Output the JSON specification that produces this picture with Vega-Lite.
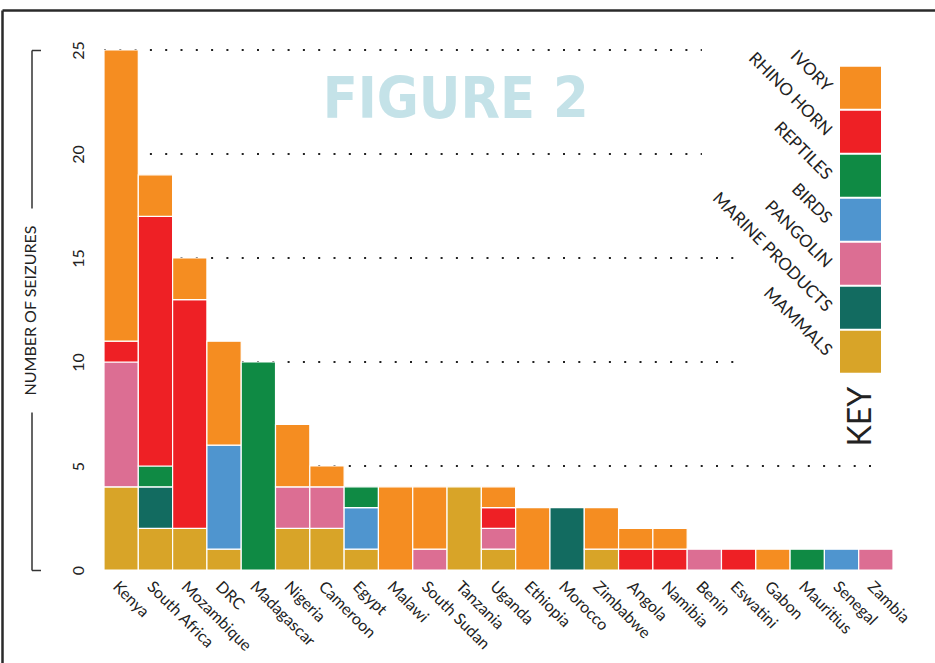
{
  "$schema": "https://vega.github.io/schema/vega-lite/v6.json",
  "width": 789,
  "height": 520,
  "autosize": {"type": "none"},
  "padding": {"left": 104, "top": 50, "right": 42, "bottom": 93},
  "background": "white",
  "config": {
    "view": {"stroke": null},
    "font": "Lato",
    "axis": {"labelFont": "Lato", "titleFont": "Lato"}
  },
  "datasets": {
    "seizures": [
      {"country": "Kenya", "category": "MAMMALS", "count": 4},
      {"country": "Kenya", "category": "PANGOLIN", "count": 6},
      {"country": "Kenya", "category": "RHINO HORN", "count": 1},
      {"country": "Kenya", "category": "IVORY", "count": 14},
      {"country": "South Africa", "category": "MAMMALS", "count": 2},
      {"country": "South Africa", "category": "MARINE PRODUCTS", "count": 2},
      {"country": "South Africa", "category": "REPTILES", "count": 1},
      {"country": "South Africa", "category": "RHINO HORN", "count": 12},
      {"country": "South Africa", "category": "IVORY", "count": 2},
      {"country": "Mozambique", "category": "MAMMALS", "count": 2},
      {"country": "Mozambique", "category": "RHINO HORN", "count": 11},
      {"country": "Mozambique", "category": "IVORY", "count": 2},
      {"country": "DRC", "category": "MAMMALS", "count": 1},
      {"country": "DRC", "category": "BIRDS", "count": 5},
      {"country": "DRC", "category": "IVORY", "count": 5},
      {"country": "Madagascar", "category": "REPTILES", "count": 10},
      {"country": "Nigeria", "category": "MAMMALS", "count": 2},
      {"country": "Nigeria", "category": "PANGOLIN", "count": 2},
      {"country": "Nigeria", "category": "IVORY", "count": 3},
      {"country": "Cameroon", "category": "MAMMALS", "count": 2},
      {"country": "Cameroon", "category": "PANGOLIN", "count": 2},
      {"country": "Cameroon", "category": "IVORY", "count": 1},
      {"country": "Egypt", "category": "MAMMALS", "count": 1},
      {"country": "Egypt", "category": "BIRDS", "count": 2},
      {"country": "Egypt", "category": "REPTILES", "count": 1},
      {"country": "Malawi", "category": "IVORY", "count": 4},
      {"country": "South Sudan", "category": "PANGOLIN", "count": 1},
      {"country": "South Sudan", "category": "IVORY", "count": 3},
      {"country": "Tanzania", "category": "MAMMALS", "count": 4},
      {"country": "Uganda", "category": "MAMMALS", "count": 1},
      {"country": "Uganda", "category": "PANGOLIN", "count": 1},
      {"country": "Uganda", "category": "RHINO HORN", "count": 1},
      {"country": "Uganda", "category": "IVORY", "count": 1},
      {"country": "Ethiopia", "category": "IVORY", "count": 3},
      {"country": "Morocco", "category": "MARINE PRODUCTS", "count": 3},
      {"country": "Zimbabwe", "category": "MAMMALS", "count": 1},
      {"country": "Zimbabwe", "category": "IVORY", "count": 2},
      {"country": "Angola", "category": "RHINO HORN", "count": 1},
      {"country": "Angola", "category": "IVORY", "count": 1},
      {"country": "Namibia", "category": "RHINO HORN", "count": 1},
      {"country": "Namibia", "category": "IVORY", "count": 1},
      {"country": "Benin", "category": "PANGOLIN", "count": 1},
      {"country": "Eswatini", "category": "RHINO HORN", "count": 1},
      {"country": "Gabon", "category": "IVORY", "count": 1},
      {"country": "Mauritius", "category": "REPTILES", "count": 1},
      {"country": "Senegal", "category": "BIRDS", "count": 1},
      {"country": "Zambia", "category": "PANGOLIN", "count": 1}
    ],
    "key": [
      {"category": "IVORY"},
      {"category": "RHINO HORN"},
      {"category": "REPTILES"},
      {"category": "BIRDS"},
      {"category": "PANGOLIN"},
      {"category": "MARINE PRODUCTS"},
      {"category": "MAMMALS"}
    ]
  },
  "layer": [
    {
      "layer": [
        {
          "data": {"values": [{"v": 25}, {"v": 20}]},
          "mark": {"type": "rule", "color": "#222222", "strokeWidth": 2, "strokeDash": [2, 13.3]},
          "encoding": {
            "x": {"datum": "Kenya", "type": "nominal", "bandPosition": 0,
              "scale": {"type": "band", "paddingInner": 0, "paddingOuter": 0, "domain": ["Kenya","South Africa","Mozambique","DRC","Madagascar","Nigeria","Cameroon","Egypt","Malawi","South Sudan","Tanzania","Uganda","Ethiopia","Morocco","Zimbabwe","Angola","Namibia","Benin","Eswatini","Gabon","Mauritius","Senegal","Zambia"]}},
            "x2": {"datum": "Benin", "bandPosition": 0.43},
            "y": {"field": "v", "type": "quantitative",
              "scale": {"domain": [0, 25], "nice": false, "zero": true},
              "axis": {
                "orient": "left", "offset": 72.5, "values": [0, 25],
                "domain": true, "domainColor": "#333333", "domainWidth": 1.5, "domainDash": [158, 204, 158],
                "ticks": true, "tickSize": -9, "tickColor": "#333333", "tickWidth": 1.5,
                "labels": false, "grid": false,
                "title": "NUMBER OF SEIZURES", "titleFontSize": 16, "titleFontWeight": "normal", "titleColor": "#222222",
                "titleAngle": -90, "titleX": -1, "titleY": 260, "titleAlign": "center", "titleBaseline": "middle"
              }}
          }
        },
        {
          "data": {"values": [{"v": 15}, {"v": 10}]},
          "mark": {"type": "rule", "color": "#222222", "strokeWidth": 2, "strokeDash": [2, 13.3]},
          "encoding": {
            "x": {"datum": "Kenya", "type": "nominal", "bandPosition": 0,
              "scale": {"type": "band", "paddingInner": 0, "paddingOuter": 0, "domain": ["Kenya","South Africa","Mozambique","DRC","Madagascar","Nigeria","Cameroon","Egypt","Malawi","South Sudan","Tanzania","Uganda","Ethiopia","Morocco","Zimbabwe","Angola","Namibia","Benin","Eswatini","Gabon","Mauritius","Senegal","Zambia"]}},
            "x2": {"datum": "Eswatini", "bandPosition": 0.45},
            "y": {"field": "v", "type": "quantitative", "scale": {"domain": [0, 25], "nice": false, "zero": true}, "axis": null}
          }
        },
        {
          "data": {"values": [{"v": 5}]},
          "mark": {"type": "rule", "color": "#222222", "strokeWidth": 2, "strokeDash": [2, 13.3]},
          "encoding": {
            "x": {"datum": "Kenya", "type": "nominal", "bandPosition": 0,
              "scale": {"type": "band", "paddingInner": 0, "paddingOuter": 0, "domain": ["Kenya","South Africa","Mozambique","DRC","Madagascar","Nigeria","Cameroon","Egypt","Malawi","South Sudan","Tanzania","Uganda","Ethiopia","Morocco","Zimbabwe","Angola","Namibia","Benin","Eswatini","Gabon","Mauritius","Senegal","Zambia"]}},
            "x2": {"datum": "Zambia", "bandPosition": 0.4},
            "y": {"field": "v", "type": "quantitative", "scale": {"domain": [0, 25], "nice": false, "zero": true}, "axis": null}
          }
        },
        {
          "data": {"name": "seizures"},
          "transform": [
            {"calculate": "indexof(['MAMMALS', 'MARINE PRODUCTS', 'PANGOLIN', 'BIRDS', 'REPTILES', 'RHINO HORN', 'IVORY'], datum.category)", "as": "stackOrder"}
          ],
          "mark": {"type": "bar", "stroke": "#ffffff", "strokeWidth": 1.2},
          "encoding": {
            "x": {"field": "country", "type": "nominal",
              "scale": {"type": "band", "paddingInner": 0, "paddingOuter": 0, "domain": ["Kenya","South Africa","Mozambique","DRC","Madagascar","Nigeria","Cameroon","Egypt","Malawi","South Sudan","Tanzania","Uganda","Ethiopia","Morocco","Zimbabwe","Angola","Namibia","Benin","Eswatini","Gabon","Mauritius","Senegal","Zambia"]},
              "axis": {"orient": "bottom", "title": null, "domain": false, "ticks": false, "grid": false,
                "labelAngle": 45, "labelAlign": "left", "labelBaseline": "top", "labelPadding": 8,
                "labelFontSize": 16, "labelColor": "#222222", "labelOverlap": false}},
            "y": {"field": "count", "type": "quantitative", "stack": "zero",
              "scale": {"domain": [0, 25], "nice": false, "zero": true},
              "axis": {"orient": "left", "title": null, "domain": false, "ticks": false, "grid": false,
                "values": [0, 5, 10, 15, 20, 25], "labelAngle": -90, "labelAlign": "center", "labelBaseline": "bottom",
                "labelPadding": 18, "labelFontSize": 16, "labelColor": "#222222"}},
            "order": {"field": "stackOrder", "type": "quantitative", "sort": "ascending"},
            "color": {"field": "category", "type": "nominal",
              "scale": {"domain": ["IVORY", "RHINO HORN", "REPTILES", "BIRDS", "PANGOLIN", "MARINE PRODUCTS", "MAMMALS"],
                "range": ["#F58D21", "#EE2025", "#0F8A44", "#4F95CF", "#DC6E93", "#126B60", "#D8A428"]},
              "legend": null}
          }
        },
        {
          "data": {"values": [{"label": "FIGURE 2"}]},
          "mark": {"type": "text", "font": "'Liberation Sans Narrow', 'DejaVu Sans Condensed', 'Liberation Sans', sans-serif", "fontWeight": "bold", "fontSize": 57, "color": "#C4E2E8", "align": "center", "baseline": "alphabetic"},
          "encoding": {
            "x": {"datum": "Tanzania", "type": "nominal", "bandPosition": 0.25,
              "scale": {"type": "band", "paddingInner": 0, "paddingOuter": 0, "domain": ["Kenya","South Africa","Mozambique","DRC","Madagascar","Nigeria","Cameroon","Egypt","Malawi","South Sudan","Tanzania","Uganda","Ethiopia","Morocco","Zimbabwe","Angola","Namibia","Benin","Eswatini","Gabon","Mauritius","Senegal","Zambia"]}},
            "y": {"datum": 21.75, "type": "quantitative", "scale": {"domain": [0, 25], "nice": false, "zero": true}, "axis": null},
            "text": {"field": "label"}
          }
        }
      ],
      "resolve": {"axis": {"y": "independent"}}
    },
    {
      "data": {"name": "key"},
      "layer": [
        {
          "mark": {"type": "rect"},
          "encoding": {
            "x": {"datum": "swatch", "type": "nominal",
              "scale": {"type": "band", "domain": ["swatch"], "paddingInner": 0, "paddingOuter": 0, "range": [736, 777]}, "axis": null},
            "y": {"field": "category", "type": "nominal",
              "scale": {"type": "band", "domain": ["IVORY", "RHINO HORN", "REPTILES", "BIRDS", "PANGOLIN", "MARINE PRODUCTS", "MAMMALS", "KEY"], "paddingInner": 0.04545, "paddingOuter": 0, "range": [16.7, 366.7]}, "axis": null},
            "color": {"field": "category", "type": "nominal",
              "scale": {"domain": ["IVORY", "RHINO HORN", "REPTILES", "BIRDS", "PANGOLIN", "MARINE PRODUCTS", "MAMMALS"],
                "range": ["#F58D21", "#EE2025", "#0F8A44", "#4F95CF", "#DC6E93", "#126B60", "#D8A428"]},
              "legend": null}
          }
        },
        {
          "mark": {"type": "text", "angle": 45, "align": "right", "baseline": "middle", "dx": -7, "dy": 9, "fontSize": 17, "color": "#222222", "font": "Lato"},
          "encoding": {
            "x": {"datum": "swatch", "type": "nominal", "bandPosition": 0,
              "scale": {"type": "band", "domain": ["swatch"], "paddingInner": 0, "paddingOuter": 0, "range": [736, 777]}, "axis": null},
            "y": {"field": "category", "type": "nominal", "bandPosition": 0.5,
              "scale": {"type": "band", "domain": ["IVORY", "RHINO HORN", "REPTILES", "BIRDS", "PANGOLIN", "MARINE PRODUCTS", "MAMMALS", "KEY"], "paddingInner": 0.04545, "paddingOuter": 0, "range": [16.7, 366.7]}, "axis": null},
            "text": {"field": "category"}
          }
        },
        {
          "data": {"values": [{"t": "KEY"}]},
          "mark": {"type": "text", "angle": -90, "align": "center", "baseline": "middle", "fontSize": 32, "color": "#222222", "font": "Lato"},
          "encoding": {
            "x": {"datum": "swatch", "type": "nominal", "bandPosition": 0.5,
              "scale": {"type": "band", "domain": ["swatch"], "paddingInner": 0, "paddingOuter": 0, "range": [736, 777]}, "axis": null},
            "y": {"datum": "KEY", "type": "nominal", "bandPosition": 1,
              "scale": {"type": "band", "domain": ["IVORY", "RHINO HORN", "REPTILES", "BIRDS", "PANGOLIN", "MARINE PRODUCTS", "MAMMALS", "KEY"], "paddingInner": 0.04545, "paddingOuter": 0, "range": [16.7, 366.7]}, "axis": null},
            "text": {"field": "t"}
          }
        }
      ]
    },
    {
      "data": {"values": [{"f": 0}]},
      "mark": {"type": "point", "opacity": 0},
      "encoding": {
        "x": {"datum": 0, "type": "quantitative",
          "scale": {"domain": [0, 1], "range": [-102, 831], "nice": false, "zero": false},
          "axis": {"orient": "top", "offset": 40, "domain": true, "domainColor": "#2a2a2a", "domainWidth": 2.5,
            "ticks": false, "labels": false, "grid": false, "title": null}},
        "y": {"datum": 0, "type": "quantitative",
          "scale": {"domain": [0, 1], "range": [613, -40], "nice": false, "zero": false},
          "axis": {"orient": "left", "offset": 102, "domain": true, "domainColor": "#2a2a2a", "domainWidth": 2.5,
            "ticks": false, "labels": false, "grid": false, "title": null}}
      }
    }
  ],
  "resolve": {
    "scale": {"x": "independent", "y": "independent"},
    "axis": {"x": "independent", "y": "independent"}
  }
}
